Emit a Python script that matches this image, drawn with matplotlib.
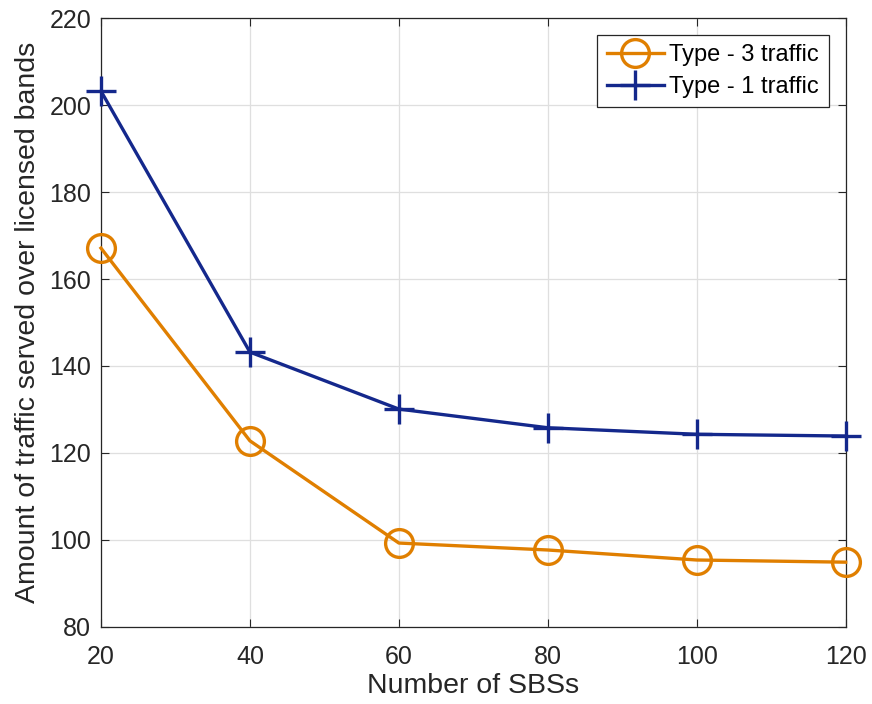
import numpy as np
import matplotlib
matplotlib.use('Agg')
import matplotlib.pyplot as plt

plt.rcParams['font.family'] = ['Liberation Sans', 'DejaVu Sans']

sbs = [20, 40, 60, 80, 100, 120]
type3 = [167.1, 122.8, 99.3, 97.7, 95.4, 94.9]
type1 = [203.2, 143.2, 130.1, 125.8, 124.3, 123.9]

fig = plt.figure(figsize=(8.72, 7.04), dpi=100)
ax = fig.add_axes([0.1158, 0.1094, 0.854, 0.865])

ax.plot(sbs, type3, color='#E07F00', linewidth=2.4, marker='o', markersize=20,
        markerfacecolor='none', markeredgewidth=2.4, label='Type - 3 traffic',
        clip_on=False, zorder=3)
ax.plot(sbs, type1, color='#14288C', linewidth=2.4, marker='+', markersize=21,
        markeredgewidth=2.4, label='Type - 1 traffic', clip_on=False, zorder=3)

ax.set_xlim(20, 120)
ax.set_ylim(80, 220)
ax.set_xticks(np.arange(20, 121, 20))
ax.set_yticks(np.arange(80, 221, 20))
ax.grid(True, color='#DFDFDF', linewidth=0.9)
ax.set_axisbelow(True)
ax.tick_params(direction='in', length=6, labelsize=18, colors='#262626',
               top=True, right=True)
ax.tick_params(axis='x', pad=13)
ax.tick_params(axis='y', pad=7)
for s in ax.spines.values():
    s.set_color('#262626')
    s.set_linewidth(0.9)

ax.set_xlabel('Number of SBSs', fontsize=20.5, color='#262626', labelpad=3)
ax.set_ylabel('Amount of traffic served over licensed bands', fontsize=20.5,
              color='#262626', labelpad=6)

leg = ax.legend(loc='upper right', fontsize=17, fancybox=False, framealpha=1,
                edgecolor='#262626', handlelength=2.4, borderpad=0.4,
                labelspacing=0.4, handletextpad=0.25, borderaxespad=0.72)
leg.get_frame().set_linewidth(0.9)

fig.savefig('out.png', dpi=100)
